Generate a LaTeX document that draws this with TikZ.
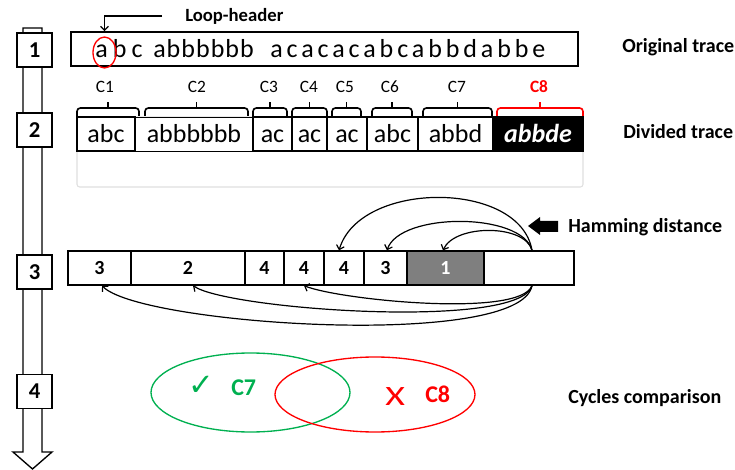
\documentclass[tikz,border=0pt]{standalone}
\usepackage{fontspec}
\setmainfont{Carlito}
\newfontfamily\djv{DejaVu Sans}
\usetikzlibrary{arrows.meta,shapes.geometric}
\definecolor{cgreen}{RGB}{0,176,80}
\definecolor{cgray}{RGB}{127,127,127}
\newcommand\brc[3][black]{%
  \draw[brace,#1] (#2,116) |- ({(#2+#3)/2},108) -| (#3,116);
  \draw[line width=1.2pt,#1] ({(#2+#3)/2},108) -- ({(#2+#3)/2},102);}
\begin{document}
\begin{tikzpicture}[x=0.75pt,y=-0.75pt,
  stepbox/.style={draw,fill=white,line width=1pt,minimum width=26.25pt,minimum height=25.5pt,inner sep=0pt,font=\fontsize{17}{17}\selectfont\bfseries},
  cell/.style={draw,line width=1.2pt,minimum height=25.5pt,inner sep=0pt,text height=13.5pt,text depth=0pt,font=\fontsize{19.5}{20}\selectfont},
  hcell/.style={draw,line width=1pt,minimum height=25.5pt,inner sep=0pt,font=\fontsize{15}{15}\selectfont\bfseries},
  clabel/.style={anchor=base,inner sep=0pt,font=\fontsize{13}{13}\selectfont},
  brace/.style={line width=1.2pt,rounded corners=2.5pt},
  rlabel/.style={anchor=base west,inner sep=0pt,font=\fontsize{15}{15}\selectfont\bfseries},
  hm/.style={line width=0.9pt,-{Straight Barb[length=3pt,width=6pt]}},
  trace/.style={anchor=base west,inner sep=0pt,font=\fontsize{19.5}{20}\selectfont},
]
\useasboundingbox (0,0) rectangle (735,470);

% left process arrow
\draw[line width=1pt,fill=white] (23,28) -- (42,28) -- (42,452) -- (52,452) -- (32.5,469) -- (13,452) -- (23,452) -- cycle;
\node[stepbox] (s1) at (34.5,50) {1};
\node[stepbox] (s2) at (34.5,130) {2};
\node[stepbox] (s3) at (34.5,272) {3};
\node[stepbox] (s4) at (34.5,391.5) {4};

% step 1: original trace
\node[draw,line width=1.2pt,minimum width=380.25pt,minimum height=25.5pt,inner sep=0pt] (ot) at (324.5,49) {};
\node[trace,font=\fontsize{19.5}{20}\selectfont\addfontfeature{LetterSpace=20}] (w1) at (95,58) {abc};
\node[trace,font=\fontsize{19.5}{20}\selectfont\addfontfeature{LetterSpace=4}] (w2) at (153,58) {abbbbbb};
\node[trace,font=\fontsize{19.5}{20}\selectfont\addfontfeature{LetterSpace=15}] (w3) at (270,58) {acacacabcabbdabbe};
\node[draw=red,ellipse,line width=1pt,minimum width=17.25pt,minimum height=23.25pt,inner sep=0pt] (lhe) at (104.5,52.5) {};
\coordinate (lhs) at (162,16);
\draw[line width=1pt,-{Straight Barb[length=3pt,width=6pt]}] (lhs) -| (lhe.north |- ot.north);
\node[anchor=base west,inner sep=0pt,font=\fontsize{14}{14}\selectfont\bfseries] (lht) at (185,21.5) {Loop-header};

% step 2: divided trace
\draw[gray!25,line width=0.8pt,rounded corners=2pt] (77,117) rectangle (583,187);
\node[clabel] (c1) at (105,92.5) {C1};
\node[clabel] (c2) at (197,92.5) {C2};
\node[clabel] (c3) at (269,92.5) {C3};
\node[clabel] (c4) at (309,92.5) {C4};
\node[clabel] (c5) at (345,92.5) {C5};
\node[clabel] (c6) at (390,92.5) {C6};
\node[clabel] (c7) at (457,92.5) {C7};
\node[clabel,text=red,font=\fontsize{13}{13}\selectfont\bfseries] (c8) at (539,92.5) {C8};
\brc{77}{139}
\brc{145}{248}
\brc{253}{287}
\brc{292}{327}
\brc{332}{361}
\brc{372}{412}
\brc{423}{492}
\brc[red]{497}{583}
\node[cell,minimum width=43.5pt] (d1) at (106,134) {abc};
\node[cell,minimum width=88.5pt,line width=0.6pt] (d2) at (194,134) {abbbbbb};
\node[cell,minimum width=29.25pt] (d3) at (272.5,134) {ac};
\node[cell,minimum width=26.25pt] (d4) at (309.5,134) {ac};
\node[cell,minimum width=30pt] (d5) at (347,134) {ac};
\node[cell,minimum width=38.25pt] (d6) at (392.5,134) {abc};
\node[cell,minimum width=56.25pt] (d7) at (455.5,134) {abbd};
\node[cell,minimum width=67.5pt,fill=black,text=white,font=\fontsize{19.5}{20}\selectfont\bfseries\itshape] (d8) at (538,134) {abbde};

% step 3: hamming distance
\node[hcell,minimum width=47.25pt] (h1) at (99.5,268) {3};
\node[hcell,minimum width=85.5pt] (h2) at (188,268) {2};
\node[hcell,minimum width=29.25pt] (h3) at (264.5,268) {4};
\node[hcell,minimum width=30pt] (h4) at (304,268) {4};
\node[hcell,minimum width=30pt] (h5) at (344,268) {4};
\node[hcell,minimum width=32.25pt] (h6) at (385.5,268) {3};
\node[hcell,minimum width=57.75pt,fill=cgray,text=white] (h7) at (445.5,268) {1};
\node[hcell,minimum width=67.5pt] (h8) at (529,268) {};
\coordinate (ht) at ([xshift=2.25pt]h8.north);
\coordinate (hb) at ([xshift=2.25pt]h8.south);
\draw[hm] (ht) .. controls (520,180) and (360,180) .. ([xshift=-3.75pt]h5.north);
\draw[hm] (ht) .. controls (522,212) and (400,212) .. ([xshift=1.1pt]h6.north);
\draw[hm] (ht) .. controls (525,224) and (455,224) .. ([xshift=-1.9pt]h7.north);
\draw[hm] (hb) .. controls (520,318) and (340,300) .. (h4.south);
\draw[hm] (hb) .. controls (520,330) and (230,310) .. ([xshift=3.75pt]h2.south);
\draw[hm] (hb) .. controls (520,350) and (140,325) .. ([xshift=1.9pt]h1.south);
\fill (528,226) -- (540,217) -- (540,221) -- (558,221) -- (558,232) -- (540,232) -- (540,235) -- cycle;

% right labels
\node[rlabel] (l1) at (622,53) {Original trace};
\node[rlabel] (l2) at (623,139) {Divided trace};
\node[rlabel] (l3) at (568,233) {Hamming distance};
\node[rlabel] (l4) at (568,403) {Cycles comparison};

% step 4: comparison
\node[draw=cgreen,ellipse,line width=1pt,minimum width=149.25pt,minimum height=59.25pt,inner sep=0pt] (eg) at (250.5,392.5) {};
\node[draw=red,ellipse,line width=1pt,minimum width=150pt,minimum height=56.25pt,inner sep=0pt] (er) at (375,394.5) {};
\node[anchor=base west,text=cgreen,inner sep=0pt,font=\djv\fontsize{23}{23}\selectfont] (ck) at (188,395) {✓};
\node[anchor=base west,text=cgreen,inner sep=0pt,font=\fontsize{18}{18}\selectfont\bfseries] (c7b) at (231,395) {C7};
\node[anchor=base west,text=red,inner sep=0pt,font=\fontsize{21}{21}\selectfont] (xx) at (385,405) {\scalebox{1.35}[1]{X}};
\node[anchor=base west,text=red,inner sep=0pt,font=\fontsize{18}{18}\selectfont\bfseries] (c8b) at (425,402) {C8};
\end{tikzpicture}
\end{document}
